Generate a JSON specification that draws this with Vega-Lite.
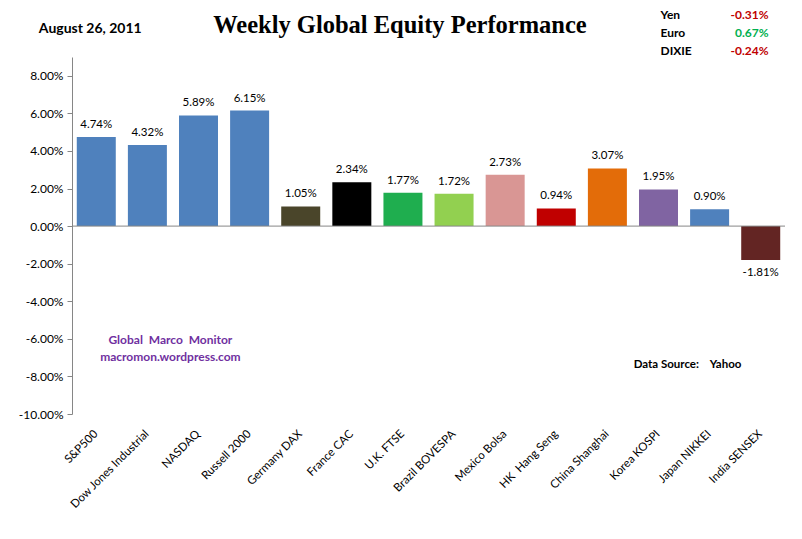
{
  "$schema": "https://vega.github.io/schema/vega-lite/v6.json",
  "width": 713,
  "height": 357,
  "autosize": {"type": "none"},
  "padding": {"left": 72, "top": 57, "right": 17, "bottom": 125},
  "background": "white",
  "config": {"view": {"stroke": null}, "font": "Lato"},
  "datasets": {
    "bars": [
      {"index": "S&P500", "change": 0.0474, "color": "#4F81BD"},
      {"index": "Dow Jones Industrial", "change": 0.0432, "color": "#4F81BD"},
      {"index": "NASDAQ", "change": 0.0589, "color": "#4F81BD"},
      {"index": "Russell 2000", "change": 0.0615, "color": "#4F81BD"},
      {"index": "Germany DAX", "change": 0.0105, "color": "#4A452A"},
      {"index": "France CAC", "change": 0.0234, "color": "#000000"},
      {"index": "U.K. FTSE", "change": 0.0177, "color": "#1FAE4F"},
      {"index": "Brazil BOVESPA", "change": 0.0172, "color": "#92D050"},
      {"index": "Mexico Bolsa", "change": 0.0273, "color": "#D99694"},
      {"index": "HK\u00a0\u00a0Hang Seng", "change": 0.0094, "color": "#C00000"},
      {"index": "China Shanghai", "change": 0.0307, "color": "#E36C09"},
      {"index": "Korea KOSPI", "change": 0.0195, "color": "#8064A2"},
      {"index": "Japan NIKKEI", "change": 0.009, "color": "#4F81BD"},
      {"index": "India SENSEX", "change": -0.0181, "color": "#632523"}
    ],
    "notes": [
      {"index": "U.K. FTSE", "y": 0.1065, "text": "Weekly Global Equity Performance", "group": "title"},
      {"index": "S&P500", "y": 0.1049, "text": "August 26, 2011", "group": "date"},
      {"index": "Dow Jones Industrial", "y": -0.0606, "text": "Global\u00a0\u00a0Marco\u00a0\u00a0Monitor", "group": "brand"},
      {"index": "Dow Jones Industrial", "y": -0.0697, "text": "macromon.wordpress.com", "group": "brand"},
      {"index": "Korea KOSPI", "y": -0.0739, "text": "Data Source:\u00a0\u00a0\u00a0 Yahoo", "group": "source"}
    ],
    "fx": [
      {"index": "Korea KOSPI", "y": 0.1124, "label": "Yen", "value": "-0.31%", "sign": "neg"},
      {"index": "Korea KOSPI", "y": 0.1028, "label": "Euro", "value": "0.67%", "sign": "pos"},
      {"index": "Korea KOSPI", "y": 0.0932, "label": "DIXIE", "value": "-0.24%", "sign": "neg"}
    ]
  },
  "layer": [
    {
      "data": {"name": "bars"},
      "mark": {"type": "bar", "width": 39},
      "encoding": {
        "x": {
          "field": "index",
          "type": "nominal",
          "sort": null,
          "scale": {"paddingInner": 0.25, "paddingOuter": 0.1},
          "axis": {
            "title": null,
            "labelAngle": -45,
            "labelAlign": "right",
            "labelBaseline": "middle",
            "labelFont": "Lato",
            "labelFontSize": 11.5,
            "labelColor": "#000000",
            "labelPadding": 18,
            "ticks": false,
            "domain": false,
            "labelLimit": 200,
            "labelOverlap": false
          }
        },
        "y": {
          "field": "change",
          "type": "quantitative",
          "scale": {"domain": [-0.1, 0.09], "nice": false, "zero": false},
          "axis": {
            "title": null,
            "labelExpr": "replace(format(datum.value, '.2%'), '\u2212', '-')",
            "values": [-0.1, -0.08, -0.06, -0.04, -0.02, 0, 0.02, 0.04, 0.06, 0.08],
            "tickCount": 20,
            "grid": false,
            "domainColor": "#868686",
            "tickColor": "#868686",
            "tickSize": 5,
            "labelFont": "Lato",
            "labelFontSize": 12,
            "labelColor": "#000000",
            "labelPadding": 4,
            "labelOverlap": false
          }
        },
        "color": {"field": "color", "type": "nominal", "scale": null, "legend": null}
      }
    },
    {
      "data": {"name": "bars"},
      "transform": [
        {"filter": "datum.change >= 0"},
        {"calculate": "replace(format(datum.change, '.2%'), '\u2212', '-')", "as": "label"}
      ],
      "mark": {"type": "text", "fontSize": 11.5, "font": "Lato", "color": "#000000", "baseline": "bottom", "dy": -7},
      "encoding": {
        "x": {"field": "index", "type": "nominal", "sort": null},
        "y": {"field": "change", "type": "quantitative"},
        "text": {"field": "label"}
      }
    },
    {
      "data": {"name": "bars"},
      "transform": [
        {"filter": "datum.change < 0"},
        {"calculate": "replace(format(datum.change, '.2%'), '\u2212', '-')", "as": "label"}
      ],
      "mark": {"type": "text", "fontSize": 11.5, "font": "Lato", "color": "#000000", "baseline": "top", "dy": 7},
      "encoding": {
        "x": {"field": "index", "type": "nominal", "sort": null},
        "y": {"field": "change", "type": "quantitative"},
        "text": {"field": "label"}
      }
    },
    {
      "data": {"values": [{"zero": 0}]},
      "mark": {"type": "rule", "color": "#868686", "strokeWidth": 1},
      "encoding": {"y": {"field": "zero", "type": "quantitative"}}
    },
    {
      "data": {"name": "notes"},
      "transform": [{"filter": "datum.group == 'title'"}],
      "mark": {"type": "text", "font": "Liberation Serif", "fontSize": 24.5, "fontWeight": "bold", "color": "#000000", "align": "center", "baseline": "middle", "dx": -3},
      "encoding": {
        "x": {"field": "index", "type": "nominal", "sort": null},
        "y": {"field": "y", "type": "quantitative"},
        "text": {"field": "text"}
      }
    },
    {
      "data": {"name": "notes"},
      "transform": [{"filter": "datum.group == 'date'"}],
      "mark": {"type": "text", "font": "Lato", "fontSize": 14, "fontWeight": "bold", "color": "#000000", "align": "center", "baseline": "middle", "dx": -6},
      "encoding": {
        "x": {"field": "index", "type": "nominal", "sort": null},
        "y": {"field": "y", "type": "quantitative"},
        "text": {"field": "text"}
      }
    },
    {
      "data": {"name": "notes"},
      "transform": [{"filter": "datum.group == 'brand'"}],
      "mark": {"type": "text", "font": "Lato", "fontSize": 12, "fontWeight": "bold", "color": "#7030A0", "align": "center", "baseline": "middle", "dx": 23},
      "encoding": {
        "x": {"field": "index", "type": "nominal", "sort": null},
        "y": {"field": "y", "type": "quantitative"},
        "text": {"field": "text"}
      }
    },
    {
      "data": {"name": "notes"},
      "transform": [{"filter": "datum.group == 'source'"}],
      "mark": {"type": "text", "font": "Lato", "fontSize": 11.5, "fontWeight": "bold", "color": "#000000", "align": "center", "baseline": "middle", "dx": 29},
      "encoding": {
        "x": {"field": "index", "type": "nominal", "sort": null},
        "y": {"field": "y", "type": "quantitative"},
        "text": {"field": "text"}
      }
    },
    {
      "data": {"name": "fx"},
      "mark": {"type": "text", "font": "Lato", "fontSize": 12, "fontWeight": "bold", "color": "#000000", "align": "left", "baseline": "middle", "dx": 2},
      "encoding": {
        "x": {"field": "index", "type": "nominal", "sort": null},
        "y": {"field": "y", "type": "quantitative"},
        "text": {"field": "label"}
      }
    },
    {
      "data": {"name": "fx"},
      "mark": {"type": "text", "font": "Lato", "fontSize": 12, "fontWeight": "bold", "align": "right", "baseline": "middle", "dx": 110},
      "encoding": {
        "x": {"field": "index", "type": "nominal", "sort": null},
        "y": {"field": "y", "type": "quantitative"},
        "text": {"field": "value"},
        "color": {"field": "sign", "type": "nominal", "scale": {"domain": ["neg", "pos"], "range": ["#C00000", "#00B050"]}, "legend": null}
      }
    }
  ]
}
